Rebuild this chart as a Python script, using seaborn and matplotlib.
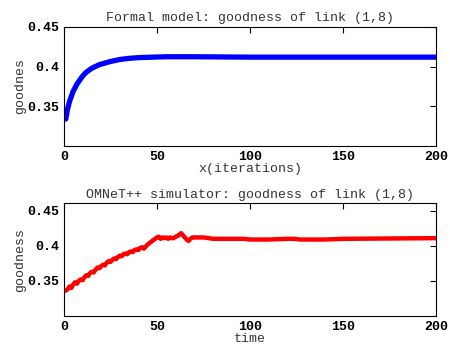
import numpy as np
import pandas as pd
import matplotlib
matplotlib.use('Agg')
import matplotlib.pyplot as plt
import seaborn as sns

# formal model curve
model_x = [1, 2, 3, 5, 7, 10, 12, 15, 19, 25, 30, 35, 41, 48, 55, 70, 100, 150, 200]
model_y = [0.334, 0.347, 0.356, 0.369, 0.378, 0.388, 0.393, 0.398, 0.4025, 0.4065, 0.409,
           0.4105, 0.4115, 0.412, 0.4125, 0.4125, 0.412, 0.412, 0.412]

# simulator curve
sim_x = list(range(1, 71)) + [75, 78, 80, 90, 97, 100, 110, 120, 124, 127, 140, 150, 200]
sim_y = [0.336, 0.338, 0.342, 0.340, 0.345, 0.348, 0.346, 0.350, 0.352, 0.351,
         0.355, 0.358, 0.357, 0.361, 0.363, 0.362, 0.366, 0.369, 0.368, 0.371,
         0.373, 0.372, 0.376, 0.378, 0.377, 0.380, 0.382, 0.381, 0.384, 0.386,
         0.385, 0.388, 0.389, 0.388, 0.391, 0.392, 0.391, 0.394, 0.395, 0.394,
         0.397, 0.398, 0.396, 0.399, 0.402, 0.404, 0.406, 0.408, 0.410, 0.412,
         0.413, 0.410, 0.412, 0.411, 0.412, 0.410, 0.412, 0.411, 0.411, 0.413,
         0.414, 0.416, 0.418, 0.415, 0.412, 0.409, 0.407, 0.410, 0.412, 0.412,
         0.412, 0.411, 0.410, 0.410, 0.410, 0.409, 0.409, 0.410, 0.410, 0.409,
         0.409, 0.410, 0.411]

xticks = [0, 50, 100, 150, 200]
yticks = [0.35, 0.4, 0.45]
yticklabels = ['0.35', '0.4', '0.45']

sns.set_style('white')
plt.rcParams['font.family'] = ['Liberation Mono', 'DejaVu Sans Mono']

fig = plt.figure(figsize=(4.5, 3.46), dpi=100)
ax1 = fig.add_axes([0.142, 0.578, 0.827, 0.344])
ax2 = fig.add_axes([0.142, 0.087, 0.827, 0.326])

sns.lineplot(x=model_x, y=model_y, ax=ax1, color='#0000ff', linewidth=3.8)
sns.lineplot(x=sim_x, y=sim_y, ax=ax2, color='#ff0000', linewidth=3.2)

ax1.set_ylim(0.30, 0.45)
ax2.set_ylim(0.30, 0.461)
ax1.set_title('Formal model: goodness of link (1,8)', fontsize=9.5, pad=4, color='#333333')
ax2.set_title('OMNeT++ simulator: goodness of link (1,8)', fontsize=9.5, pad=4, color='#333333')
ax1.set_xlabel('x(iterations)', fontsize=9.5, labelpad=0, color='#333333')
ax2.set_xlabel('time', fontsize=9.5, labelpad=0, color='#333333')
ax1.set_ylabel('goodnes', fontsize=9.5, labelpad=1, color='#333333')
ax2.set_ylabel('goodness', fontsize=9.5, labelpad=1, color='#333333')

for ax in (ax1, ax2):
    ax.set_xlim(0, 200)
    ax.set_xticks(xticks)
    ax.set_yticks(yticks)
    ax.set_yticklabels(yticklabels)
    ax.tick_params(direction='in', top=True, right=True, length=4, width=0.8,
                   labelsize=9.5, pad=3.5, colors='black')
    for lab in ax.get_xticklabels() + ax.get_yticklabels():
        lab.set_fontweight('bold')
    for s in ax.spines.values():
        s.set_color('black')
        s.set_linewidth(0.8)

fig.savefig('out.png', dpi=100, facecolor='white')
